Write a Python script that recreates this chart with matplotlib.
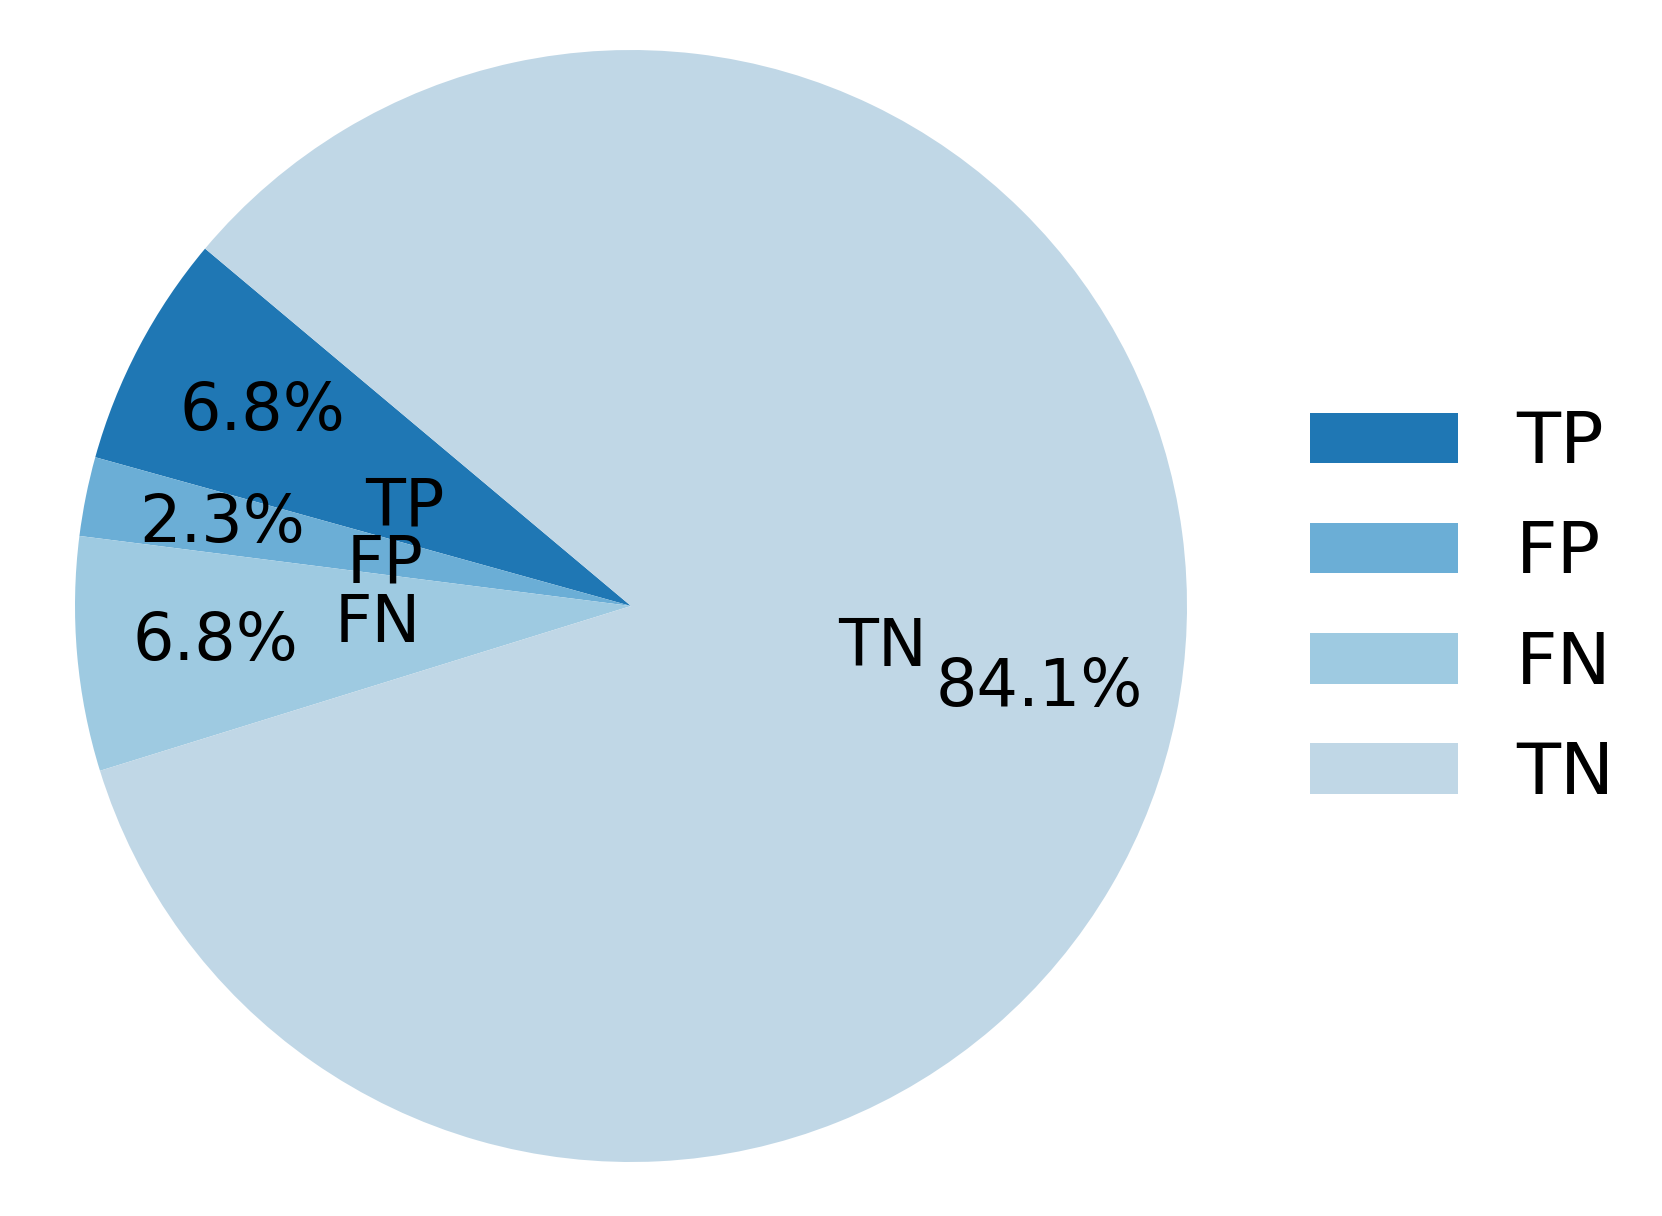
import matplotlib
matplotlib.use("Agg")
import matplotlib.pyplot as plt

# 混淆矩阵各部分占比
labels = ["TP", "FP", "FN", "TN"]
values = [6.8, 2.3, 6.8, 84.1]
colors = ["#1f77b4", "#6baed6", "#9ecae1", "#c0d7e6"]

fig = plt.figure(figsize=(16.62, 12.16), dpi=100)
ax = fig.add_axes([75 / 1662, 54 / 1216, 1112 / 1662, 1112 / 1216])

wedges, texts, autotexts = ax.pie(
    values,
    labels=labels,
    colors=colors,
    autopct="%1.1f%%",
    startangle=140,
    labeldistance=0.38,
    pctdistance=0.75,
    textprops={"fontsize": 47},
)
ax.set_xlim(-1, 1)
ax.set_ylim(-1, 1)
ax.set_aspect("equal")

fig.legend(
    wedges, labels,
    loc="center left",
    bbox_to_anchor=(1245 / 1662, 1 - 609 / 1216),
    frameon=False,
    fontsize=52,
    labelspacing=0.57,
    handlelength=2.05,
)

fig.savefig("out.png", dpi=100)
